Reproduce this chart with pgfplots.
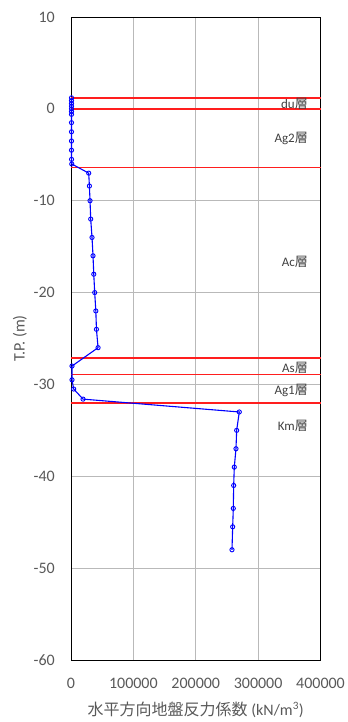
\documentclass[border=0pt]{standalone}
\usepackage{fontspec}
\setmainfont{Carlito}
\newfontfamily\jp{Noto Sans CJK JP}
\usepackage{pgfplots}
\pgfplotsset{compat=1.18}
\definecolor{txt}{RGB}{89,89,89}
\definecolor{lbl}{RGB}{64,64,64}
\definecolor{grd}{RGB}{185,185,185}
\definecolor{redl}{RGB}{255,30,30}
\begin{document}
\begin{tikzpicture}
\begin{axis}[
  name=ax,
  scale only axis,
  width=249.5pt, height=643pt,
  xmin=0, xmax=400000, ymin=-60, ymax=10,
  scaled x ticks=false, scaled y ticks=false,
  xtick={0,100000,200000,300000,400000},
  xticklabels={0,100000,200000,300000,400000},
  ytick={-60,-50,-40,-30,-20,-10,0,10},
  yticklabels={-60,-50,-40,-30,-20,-10,0,10},
  major tick length=0pt,
  grid=major,
  major grid style={grd, line width=0.9pt},
  axis line style={black, line width=0.9pt},
  tick label style={font=\fontsize{16}{18}\selectfont, text=txt, inner sep=0pt},
  yticklabel style={xshift=-16pt},
  xticklabel style={yshift=-18pt},
  xlabel={{\jp 水平方向地盤反力係数} (kN/m\textsuperscript{3})},
  ylabel={T.P. (m)},
  label style={font=\fontsize{16}{18}\selectfont, text=txt},
  xlabel style={at={(axis description cs:0.5,-0.0778)}, anchor=center},
  ylabel style={at={(axis description cs:-0.2044,0.5)}, anchor=center},
  clip=false,
]
\addplot[redl, line width=1.6pt] coordinates {(0,1.2) (400000,1.2)};
\addplot[redl, line width=1.6pt] coordinates {(0,0) (400000,0)};
\addplot[redl, line width=1.6pt] coordinates {(0,-6.4) (400000,-6.4)};
\addplot[redl, line width=1.6pt] coordinates {(0,-27.1) (400000,-27.1)};
\addplot[redl, line width=1.6pt] coordinates {(0,-28.9) (400000,-28.9)};
\addplot[redl, line width=1.6pt] coordinates {(0,-32.0) (400000,-32.0)};
\addplot[blue, line width=1.1pt, mark=o, mark size=2.1pt, mark options={line width=0.9pt}] coordinates {
(800,1.2)(800,0.9)(800,0.6)(800,0.3)(800,0)(800,-0.3)(800,-0.6)(800,-1.5)(800,-2.5)(800,-3.5)(800,-4.5)(900,-5.5)(1200,-6.0)
(28400,-7.0)(29500,-8.4)(30500,-10)(31600,-12)(33700,-14)(35300,-16)(36500,-18)(38000,-20)(39800,-22)(40800,-24)(43400,-26)
(1600,-28)(1600,-29.5)(4300,-30.5)(19300,-31.6)
(269800,-33.0)(265600,-35)(264500,-37)(261800,-39)(260800,-41)(260200,-43.5)(259200,-45.5)(258100,-48)
};
\node[anchor=east, text=lbl, font=\fontsize{13}{15}\selectfont, inner sep=0pt] at (axis cs:380000,0.53) {du{\jp 層}};
\node[anchor=east, text=lbl, font=\fontsize{13}{15}\selectfont, inner sep=0pt] at (axis cs:380000,-3.2) {Ag2{\jp 層}};
\node[anchor=east, text=lbl, font=\fontsize{13}{15}\selectfont, inner sep=0pt] at (axis cs:380000,-16.7) {Ac{\jp 層}};
\node[anchor=east, text=lbl, font=\fontsize{13}{15}\selectfont, inner sep=0pt] at (axis cs:380000,-28.2) {As{\jp 層}};
\node[anchor=east, text=lbl, font=\fontsize{13}{15}\selectfont, inner sep=0pt] at (axis cs:380000,-30.7) {Ag1{\jp 層}};
\node[anchor=east, text=lbl, font=\fontsize{13}{15}\selectfont, inner sep=0pt] at (axis cs:380000,-34.5) {Km{\jp 層}};
\end{axis}
\pgfresetboundingbox
\path ([xshift=-71pt,yshift=-62pt]ax.south west) rectangle ([xshift=27.3pt,yshift=17pt]ax.north east);
\end{tikzpicture}
\end{document}
